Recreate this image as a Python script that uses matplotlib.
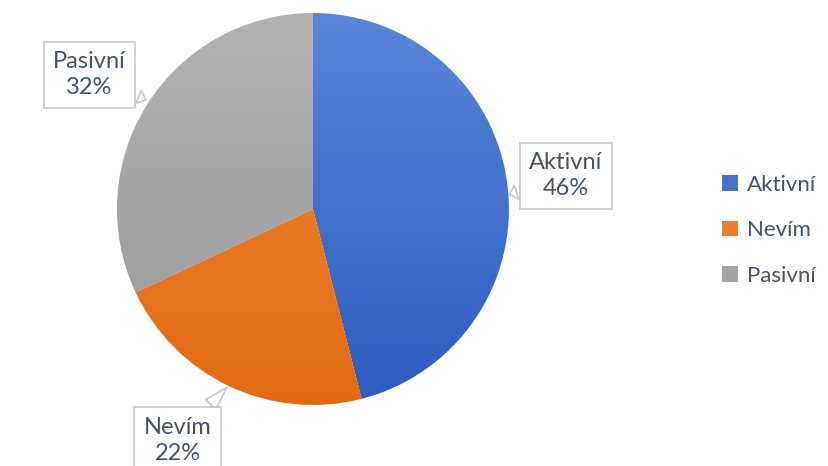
import numpy as np
import matplotlib.pyplot as plt
from matplotlib.patches import Patch

labels = ['Aktivní', 'Nevím', 'Pasivní']
values = [46, 22, 32]
colors_top = ['#5a86d8', '#f48c40', '#b2b2b2']
colors_bot = ['#2c5cc0', '#e26a12', '#979797']
legend_colors = ['#4472c4', '#ed7d31', '#a5a5a5']
text_col = '#44546a'

plt.rcParams['font.family'] = ['Lato', 'DejaVu Sans']

fig = plt.figure(figsize=(8.29, 4.66), dpi=100)
ax = fig.add_axes([0.141, 0.131, 0.473, 0.841])

wedges, _ = ax.pie(values, startangle=90, counterclock=False, radius=1,
                   colors=legend_colors,
                   wedgeprops=dict(edgecolor='white', linewidth=0.8))

# gradient fill in each wedge
grad = np.linspace(0, 1, 256).reshape(-1, 1)
for w, ct, cb in zip(wedges, colors_top, colors_bot):
    c1 = np.array(plt.matplotlib.colors.to_rgb(ct))
    c2 = np.array(plt.matplotlib.colors.to_rgb(cb))
    img = c1[None, None, :] * (1 - grad[:, :, None]) + c2[None, None, :] * grad[:, :, None]
    im = ax.imshow(img, extent=[-1, 1, -1, 1], origin='upper', aspect='auto', zorder=w.get_zorder() + 0.1)
    im.set_clip_path(w)

ax.set_xlim(-1, 1)
ax.set_ylim(-1, 1)
ax.set_aspect('equal')
ax.axis('off')

# callout labels
label_pos = [(1.29, 0.17), (-0.69, -1.18), (-1.14, 0.685)]
tips = [(0.99, 0.07), (-0.43, -0.9), (-0.84, 0.55)]
for name, v, (tx, ty), tip in zip(labels, values, label_pos, tips):
    ax.annotate(f'{name}\n{v}%', xy=tip, xytext=(tx, ty), ha='center', va='center',
                fontsize=17, color=text_col, linespacing=1.3, annotation_clip=False,
                bbox=dict(boxstyle='square,pad=0.4', fc='white', ec='#c8c8c8', lw=1.2),
                arrowprops=dict(arrowstyle='wedge,tail_width=0.6,shrink_factor=0.5',
                                fc='white', ec='#c8c8c8', lw=1.2))

handles = [Patch(facecolor=c, edgecolor='none') for c in legend_colors]
fig.legend(handles, labels, loc='center left', bbox_to_anchor=(0.871, 0.506),
           frameon=False, fontsize=16, labelcolor=text_col, handlelength=0.72,
           handleheight=0.72, handletextpad=0.4, labelspacing=1.15, borderaxespad=0,
           borderpad=0)

fig.savefig('out.png', dpi=100)
